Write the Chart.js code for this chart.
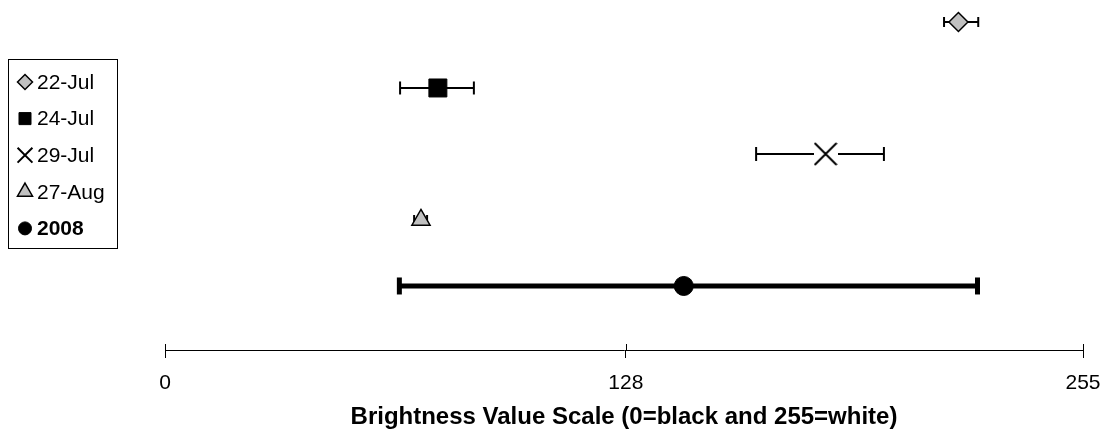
<!DOCTYPE html>
<html>
<head>
<meta charset="utf-8">
<script src="https://cdn.jsdelivr.net/npm/chart.js@4/dist/chart.umd.min.js"></script>
<style>
  html, body { margin: 0; padding: 0; background: #fff; }
  #wrap { width: 1105px; height: 438px; position: relative; }
</style>
</head>
<body>
<div id="wrap"><canvas id="mainChart"></canvas></div>
<script>
    // brightness readings per sample date
    const seriesLabels = ['22-Jul', '24-Jul', '29-Jul', '27-Aug', '2008'];
    const meanValues = [220.4, 75.8, 183.5, 71.1, 144.1];
    const lowValues = [216.4, 65.3, 164.2, 69.2, 65.1];
    const highValues = [225.9, 85.8, 199.7, 72.8, 225.7];
    const rowPositions = [5, 4, 3, 2, 1];
    const tickValues = [0, 128, 255];
    const axisTitle = 'Brightness Value Scale (0=black and 255=white)';

    const FONT = '"Liberation Sans", Arial, sans-serif';

    // white-backed X so the whisker stops short of the marker
    function crossMarker(size, arm, lw) {
      const c = document.createElement('canvas');
      c.width = c.height = size;
      const g = c.getContext('2d');
      g.fillStyle = '#fff';
      g.fillRect(0, 0, size, size);
      g.strokeStyle = '#000';
      g.lineWidth = lw;
      g.beginPath();
      g.moveTo(size / 2 - arm, size / 2 - arm);
      g.lineTo(size / 2 + arm, size / 2 + arm);
      g.moveTo(size / 2 + arm, size / 2 - arm);
      g.lineTo(size / 2 - arm, size / 2 + arm);
      g.stroke();
      return c;
    }

    const markerStyles = [
      { pointStyle: 'rectRot', radius: 9.5, fill: '#c0c0c0', border: 1.5, legend: 'rectRot', legendRadius: 7.5 },
      { pointStyle: 'rect', radius: 12.7, fill: '#000', border: 1, legend: 'rect', legendRadius: 8.5 },
      { pointStyle: crossMarker(24, 11, 2), radius: 12, fill: '#000', border: 2, legend: 'crossRot', legendRadius: 10.5 },
      { pointStyle: 'triangle', radius: 10.5, fill: '#c0c0c0', border: 1.5, legend: 'triangle', legendRadius: 8.7 },
      { pointStyle: 'circle', radius: 9.5, fill: '#000', border: 1, legend: 'circle', legendRadius: 6.5 }
    ];
    const whiskerStyles = [
      { width: 2, cap: 5 },
      { width: 2, cap: 6.5 },
      { width: 2, cap: 7 },
      { width: 2, cap: 5 },
      { width: 5, cap: 8.5 }
    ];

    const datasets = [];

    // error bars: a two-point line with vertical caps
    seriesLabels.forEach((label, i) => {
      datasets.push({
        type: 'line',
        label: label + ' range',
        data: [{ x: lowValues[i], y: rowPositions[i] }, { x: highValues[i], y: rowPositions[i] }],
        borderColor: '#000',
        borderWidth: whiskerStyles[i].width,
        pointStyle: 'line',
        rotation: 90,
        pointRadius: whiskerStyles[i].cap,
        pointBorderWidth: whiskerStyles[i].width,
        pointBorderColor: '#000',
        fill: false,
        order: 2
      });
    });

    // the mean markers on top
    seriesLabels.forEach((label, i) => {
      const s = markerStyles[i];
      datasets.push({
        type: 'scatter',
        label: label,
        data: [{ x: meanValues[i], y: rowPositions[i] }],
        pointStyle: s.pointStyle,
        pointRadius: s.radius,
        pointBackgroundColor: s.fill,
        pointBorderColor: '#000',
        pointBorderWidth: s.border,
        order: 1
      });
    });

    // ticks cross the axis line, so add the part above it
    const tickTops = {
      id: 'tickTops',
      afterDraw(chart) {
        const ctx = chart.ctx;
        const xs = chart.scales.x;
        ctx.save();
        ctx.strokeStyle = '#000';
        ctx.lineWidth = 1;
        tickValues.forEach(v => {
          const px = Math.round(xs.getPixelForValue(v)) + 0.5;
          ctx.beginPath();
          ctx.moveTo(px, xs.top - 6);
          ctx.lineTo(px, xs.top);
          ctx.stroke();
        });
        ctx.restore();
      }
    };

    // boxed legend to the left of the plot
    const legendBox = {
      id: 'legendBox',
      afterDraw(chart) {
        const ctx = chart.ctx;
        ctx.save();
        ctx.strokeStyle = '#000';
        ctx.lineWidth = 1;
        ctx.strokeRect(8.5, 59.5, 109, 189);
        seriesLabels.forEach((label, i) => {
          const s = markerStyles[i];
          const y = 82 + i * 36.6;
          ctx.fillStyle = s.fill;
          ctx.strokeStyle = '#000';
          ctx.lineWidth = s.border;
          Chart.helpers.drawPoint(ctx, {
            pointStyle: s.legend,
            rotation: 0,
            radius: s.legendRadius,
            borderWidth: s.border
          }, 25, y);
          ctx.fillStyle = '#000';
          ctx.textBaseline = 'middle';
          ctx.textAlign = 'left';
          ctx.font = (i === 4 ? 'bold ' : '') + '21px ' + FONT;
          ctx.fillText(label, 37, y + 1);
        });
        ctx.restore();
      }
    };

    const ctx = document.getElementById('mainChart').getContext('2d');
    const chart = new Chart(ctx, {
      data: { datasets },
      plugins: [tickTops, legendBox],
      options: {
        responsive: true,
        maintainAspectRatio: false,
        animation: false,
        layout: { autoPadding: false, padding: { left: 165, right: 22, top: 0, bottom: 0 } },
        plugins: {
          legend: { display: false },
          tooltip: { enabled: false }
        },
        scales: {
          x: {
            type: 'linear',
            position: 'bottom',
            min: 0,
            max: 255,
            afterBuildTicks: function(scale) {
              scale.ticks = tickValues.map(v => ({ value: v }));
            },
            afterFit: function(scale) {
              scale.height = 88;
              scale.paddingLeft = 0;
              scale.paddingRight = 0;
            },
            border: { display: true, color: '#000', width: 1 },
            grid: {
              display: true,
              drawOnChartArea: false,
              drawTicks: true,
              tickLength: 8,
              color: '#000'
            },
            ticks: {
              autoSkip: false,
              maxRotation: 0,
              padding: 13,
              color: '#000',
              font: { family: FONT, size: 21 }
            },
            title: {
              display: true,
              text: axisTitle,
              color: '#000',
              padding: { top: 0, bottom: 6 },
              font: { family: FONT, size: 24, weight: 'bold' }
            }
          },
          y: {
            type: 'linear',
            display: false,
            min: 0.03,
            max: 5.333
          }
        }
      }
    });
</script>
</body>
</html>
